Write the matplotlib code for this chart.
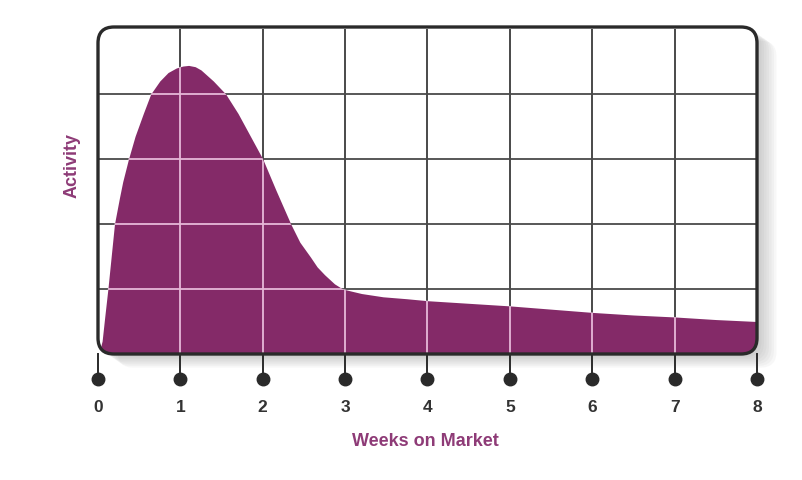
import numpy as np
import matplotlib
matplotlib.use("Agg")
import matplotlib.pyplot as plt
from matplotlib.patches import FancyBboxPatch, PathPatch

# data (weeks, activity in grid units)
weeks = [0, 0.02, 0.05, 0.08, 0.12, 0.16, 0.2, 0.26, 0.3, 0.37, 0.45, 0.55, 0.64,
         0.75, 0.85, 0.95, 1.03, 1.1, 1.18, 1.25, 1.4, 1.55, 1.7, 1.85, 2.0, 2.08,
         2.16, 2.25, 2.34, 2.45, 2.58, 2.66, 2.75, 2.87, 2.97, 3.1, 3.2, 3.46,
         3.75, 4.0, 4.5, 5.0, 5.5, 6.0, 6.5, 7.0, 7.5, 8.0]
activity = [0.0, 0.05, 0.2, 0.55, 1.0, 1.5, 2.0, 2.4, 2.65, 3.0, 3.35, 3.7, 4.0,
            4.2, 4.33, 4.4, 4.43, 4.44, 4.42, 4.37, 4.2, 4.0, 3.7, 3.35, 3.0, 2.76,
            2.52, 2.26, 2.0, 1.72, 1.49, 1.34, 1.22, 1.08, 1.0, 0.96, 0.93, 0.88,
            0.85, 0.82, 0.78, 0.74, 0.69, 0.64, 0.6, 0.57, 0.53, 0.5]
xticks = [0, 1, 2, 3, 4, 5, 6, 7, 8]
ygrid = [1, 2, 3, 4]

purple = "#842a68"
label_purple = "#8e3b77"
dark = "#2a2a2a"
pink = "#e6b8d8"

plt.rcParams["font.family"] = ["Liberation Sans", "DejaVu Sans"]
fig = plt.figure(figsize=(8.02, 4.8), dpi=100)
fig.patch.set_facecolor("white")

# overlay in pixel coordinates for decorations
ov = fig.add_axes([0, 0, 1, 1])
ov.set_xlim(0, 802)
ov.set_ylim(480, 0)
ov.axis("off")

# main data axes: x 0..8 -> px 98..757, y 0..5 -> px 354..29
ax = fig.add_axes([98 / 802, (480 - 354) / 480, 659 / 802, 325 / 480])
ax.set_xlim(0, 8)
ax.set_ylim(0, 5)
ax.axis("off")
ax.set_zorder(2)
ov.set_zorder(1)

# drop shadow
for i in range(8):
    off = 2 + i * 2.5
    sh = FancyBboxPatch((98 + off, 27 + off * 0.7), 659, 327,
                        boxstyle="round,pad=0,rounding_size=16",
                        fc="#707070", ec="none", alpha=0.05, zorder=0)
    ov.add_patch(sh)

box_bg = FancyBboxPatch((98, 27), 659, 327, boxstyle="round,pad=0,rounding_size=16",
                        fc="white", ec="none", zorder=1)
ov.add_patch(box_bg)

# dark grid
for x in xticks[1:-1]:
    ax.axvline(x, color="#3a3a3a", lw=1.3, zorder=1)
for y in ygrid:
    ax.axhline(y, color="#4a4a4a", lw=1.3, zorder=1)

clip = FancyBboxPatch((98, 27), 659, 327, boxstyle="round,pad=0,rounding_size=16",
                      fc="none", ec="none", transform=ov.transData)
fill = ax.fill_between(weeks, activity, 0, color=purple, lw=0, zorder=2)
fill.set_clip_path(clip)

# light grid over the fill
path = fill.get_paths()[0]
fp = PathPatch(path, transform=ax.transData, fc="none", ec="none")
ax.add_patch(fp)
for x in xticks[1:-1]:
    l = ax.axvline(x, color=pink, lw=1.3, zorder=3)
    l.set_clip_path(fp)
for y in ygrid:
    l = ax.axhline(y, color=pink, lw=1.3, zorder=3)
    l.set_clip_path(fp)

# frame
frame = FancyBboxPatch((98, 27), 659, 327, boxstyle="round,pad=0,rounding_size=16",
                       fc="none", ec=dark, lw=2.4, transform=ov.transData, zorder=5)
fig.add_artist(frame)

# tick stems, dots, labels
for x in xticks:
    ax.plot([x, x], [0, -0.38], color=dark, lw=1.4, clip_on=False, zorder=4)
    ax.plot([x], [-0.38], "o", ms=9, color=dark, clip_on=False, zorder=4)
    ax.text(x, -0.83, str(x), ha="center", va="center", fontsize=12.5,
            fontweight="bold", color="#333333", clip_on=False)

fig.text(425 / 802, 1 - 441 / 480, "Weeks on Market", ha="center", va="center",
         fontsize=13, fontweight="bold", color=label_purple)
fig.text(72 / 802, 1 - 166 / 480, "Activity", ha="center", va="center", rotation=90,
         fontsize=13, fontweight="bold", color=label_purple)

fig.savefig("out.png", dpi=100, facecolor="white")
